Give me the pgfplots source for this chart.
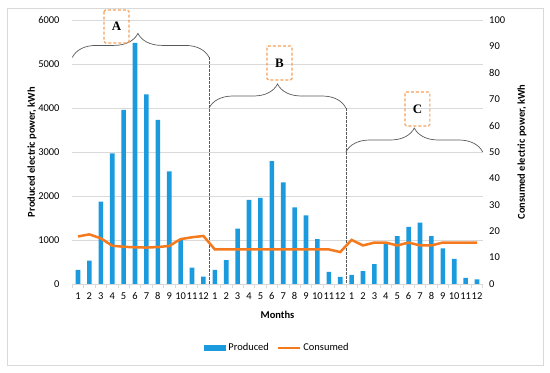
\documentclass[border=0pt]{standalone}
\usepackage{pgfplots}
\pgfplotsset{compat=1.18}
\usepackage{fontspec}
\setmainfont{Carlito}
\newfontfamily\lettfont{Liberation Serif}
\usetikzlibrary{decorations.pathreplacing}
\definecolor{barblue}{HTML}{1B9BDD}
\definecolor{lineorange}{HTML}{F57A1E}
\definecolor{boxorange}{HTML}{F5A05A}
\definecolor{gridgray}{HTML}{D9D9D9}
\definecolor{bracegray}{HTML}{595959}
\begin{document}
\begin{tikzpicture}
\path[use as bounding box] (0,0) rectangle (550bp,373bp);
\draw[gridgray, line width=0.8bp] (7bp,8bp) rectangle (543bp,365bp);
\pgfplotsset{
  common/.style={
    scale only axis, width=410.4bp, height=264bp,
    at={(72.3bp,89bp)}, anchor=south west,
    xmin=0.5, xmax=36.5,
    ticklabel style={font=\fontsize{10.5}{12}\selectfont},
    label style={font=\fontsize{10.5}{12}\selectfont\bfseries},
    /pgf/number format/assume math mode=true,
  },
  barleg/.style={legend image code/.code={\fill[barblue] (0bp,-3bp) rectangle (22bp,3bp);}},
  lineleg/.style={legend image code/.code={\draw[lineorange, line width=2.5bp] (0bp,0bp) -- (22bp,0bp);}},
}
\begin{axis}[common,
  ymin=0, ymax=6000,
  ytick={0,1000,...,6000},
  scaled y ticks=false,
  /pgf/number format/1000 sep={},
  axis x line*=bottom, axis y line*=left,
  y axis line style={draw=none},
  x axis line style={gridgray, line width=0.8bp},
  ytick style={draw=none},
  ymajorgrids, grid style={gridgray, line width=0.8bp},
  xtick={1,...,36},
  xticklabels={1,2,3,4,5,6,7,8,9,10,11,12,1,2,3,4,5,6,7,8,9,10,11,12,1,2,3,4,5,6,7,8,9,10,11,12},
  major x tick style={draw=none},
  minor xtick={0.5,1.5,...,36.5},
  minor x tick style={gridgray, line width=0.8bp},
  minor tick length=4bp,
  tick align=outside,
  xticklabel style={yshift=-1bp},
  yticklabel style={xshift=-5bp},
  xlabel={Months},
  xlabel style={at={(axis description cs:0.5,-0.117)}, anchor=center},
  ylabel={Produced electric power, kWh},
  ylabel style={at={(axis description cs:-0.098,0.5)}, anchor=center},
  clip=false,
  legend columns=2,
  legend style={draw=none, at={(axis description cs:0.5,-0.2424)}, anchor=center,
    font=\fontsize{10.5}{12}\selectfont, /tikz/every even column/.append style={column sep=6bp}},
]
\addplot[ybar, bar width=4.6bp, fill=barblue, draw=none, barleg]
coordinates {
(1,320) (2,530) (3,1870) (4,2970) (5,3955) (6,5480) (7,4310) (8,3730) (9,2560) (10,1010) (11,370) (12,170)
(13,320) (14,540) (15,1260) (16,1910) (17,1955) (18,2795) (19,2310) (20,1740) (21,1560) (22,1020) (23,275) (24,160)
(25,205) (26,295) (27,450) (28,910) (29,1090) (30,1300) (31,1395) (32,1090) (33,810) (34,570) (35,140) (36,105)
};
\addlegendentry{Produced}
\addlegendimage{lineleg}
\addlegendentry{Consumed}
% braces
\draw[bracegray, line width=0.7bp, decorate, decoration={brace, amplitude=24bp, aspect=0.48}]
  (axis cs:0.5,5150) -- (axis cs:12.5,5150);
\draw[bracegray, line width=0.7bp, decorate, decoration={brace, amplitude=24bp}]
  (axis cs:12.5,4000) -- (axis cs:24.5,4000);
\draw[bracegray, line width=0.7bp, decorate, decoration={brace, amplitude=24bp}]
  (axis cs:24.5,3000) -- (axis cs:36.5,3000);
% dashed separators
\draw[bracegray, line width=0.7bp, dash pattern=on 2.5bp off 1.5bp] (axis cs:12.5,5150) -- (axis cs:12.5,0);
\draw[bracegray, line width=0.7bp, dash pattern=on 2.5bp off 1.5bp] (axis cs:24.5,4000) -- (axis cs:24.5,0);
% boxes
\draw[boxorange, line width=1.1bp, dash pattern=on 3bp off 2bp, rounded corners=1.5bp]
  (axis cs:3.28,6227) rectangle (axis cs:5.47,5477);
\node[font=\lettfont\bfseries\fontsize{13}{14}\selectfont] at (axis cs:4.375,5850) {A};
\draw[boxorange, line width=1.1bp, dash pattern=on 3bp off 2bp, rounded corners=1.5bp]
  (axis cs:17.58,5409) rectangle (axis cs:19.77,4636);
\node[font=\lettfont\bfseries\fontsize{13}{14}\selectfont] at (axis cs:18.675,5022) {B};
\draw[boxorange, line width=1.1bp, dash pattern=on 3bp off 2bp, rounded corners=1.5bp]
  (axis cs:29.68,4364) rectangle (axis cs:31.87,3591);
\node[font=\lettfont\bfseries\fontsize{13}{14}\selectfont] at (axis cs:30.775,3977) {C};
\end{axis}
\begin{axis}[common,
  ymin=0, ymax=100,
  ytick={0,10,...,100},
  axis x line=none,
  axis y line*=right,
  y axis line style={draw=none},
  ytick style={draw=none},
  yticklabel style={xshift=3bp},
  ylabel={Consumed electric power, kWh},
  ylabel style={at={(axis description cs:1.0958,0.5)}, anchor=center},
]
\addplot[lineorange, line width=2.5bp, mark=none] coordinates {
(1,18) (2,18.8) (3,17.3) (4,14.5) (5,14.1) (6,13.9) (7,13.8) (8,14.0) (9,14.4) (10,17.0) (11,17.7) (12,18.2)
(13,13.1) (14,13.1) (15,13.1) (16,13.1) (17,13.1) (18,13.1) (19,13.1) (20,13.1) (21,13.1) (22,13.1) (23,13.1) (24,12.1)
(25,16.7) (26,14.6) (27,15.7) (28,15.7) (29,14.6) (30,15.7) (31,14.6) (32,14.6) (33,15.7) (34,15.7) (35,15.7) (36,15.7)
};
\end{axis}
\end{tikzpicture}
\end{document}
